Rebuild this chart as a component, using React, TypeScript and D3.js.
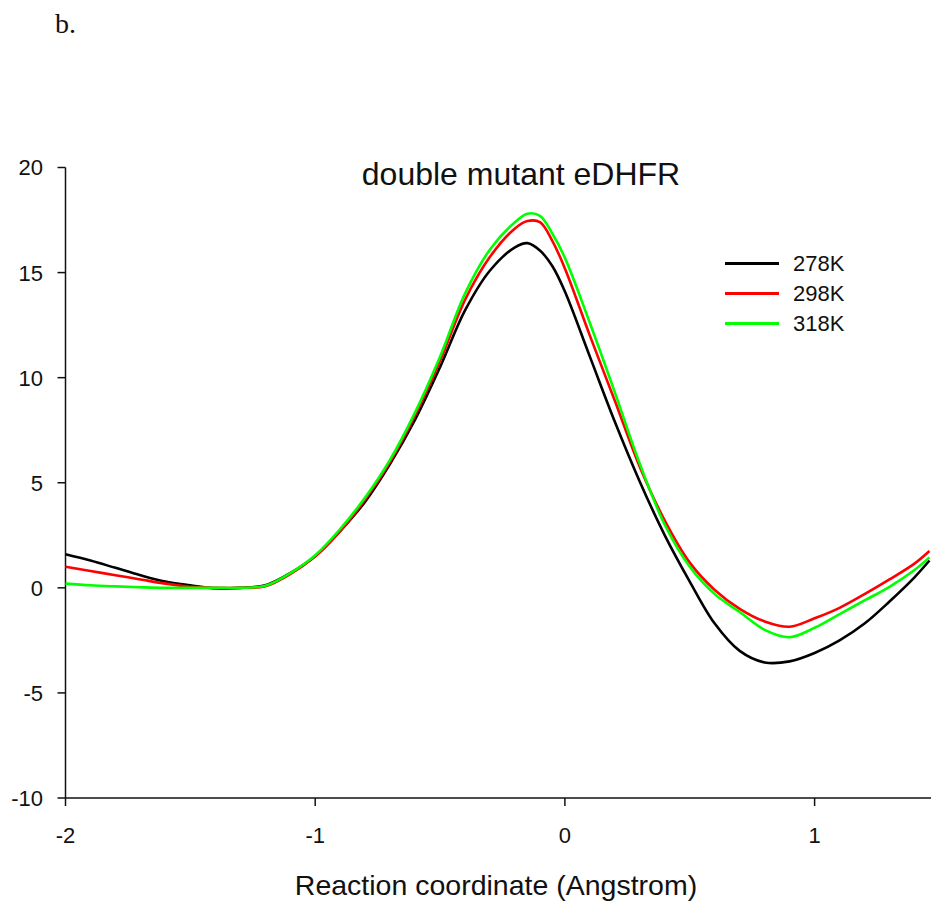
import React from "react";
import * as d3 from "d3";

const xValues = [-2.0,-1.9,-1.8,-1.7,-1.6,-1.5,-1.4,-1.3,-1.2,-1.1,-1.0,-0.9,-0.8,-0.7,-0.6,-0.5,-0.4,-0.3,-0.2,-0.15,-0.1,-0.05,0.0,0.1,0.2,0.3,0.4,0.5,0.6,0.7,0.8,0.9,1.0,1.1,1.2,1.3,1.4,1.46];
const k278 = [1.6,1.3,0.95,0.6,0.3,0.12,-0.03,0.0,0.12,0.7,1.5,2.7,4.1,5.9,8.0,10.5,13.2,15.1,16.2,16.4,16.05,15.3,14.1,11.0,7.9,5.05,2.5,0.3,-1.7,-3.0,-3.55,-3.5,-3.1,-2.5,-1.7,-0.65,0.5,1.3];
const k298 = [1.0,0.8,0.6,0.4,0.2,0.05,0.0,0.0,0.07,0.65,1.5,2.7,4.2,6.0,8.2,10.8,13.7,15.75,17.1,17.45,17.4,16.5,15.2,12.0,8.9,5.75,3.2,1.2,-0.1,-1.0,-1.6,-1.85,-1.45,-0.95,-0.3,0.4,1.15,1.75];
const k318 = [0.2,0.12,0.07,0.03,0.0,0.0,0.0,0.0,0.1,0.7,1.55,2.8,4.3,6.1,8.35,11.0,14.0,16.1,17.4,17.8,17.7,16.85,15.7,12.6,9.3,5.9,3.0,1.0,-0.3,-1.15,-2.0,-2.35,-1.9,-1.25,-0.6,0.05,0.85,1.45];

const seriesNames = ["278K", "298K", "318K"];
const seriesColors = ["#000000", "#ff0000", "#00ff00"];
const seriesValues = [k278, k298, k318];

const xTicks = [-2, -1, 0, 1];
const yTicks = [-10, -5, 0, 5, 10, 15, 20];

const title = "double mutant eDHFR";
const xLabel = "Reaction coordinate (Angstrom)";
const panelLabel = "b.";

export default function App() {
  const W = 931, H = 904;
  const x = d3.scaleLinear().domain([-2, 1.5]).range([65.5, 65.5 + 3.5 * 249.7]);
  const y = d3.scaleLinear().domain([-10, 20]).range([798, 167.5]);
  const line = d3
    .line<[number, number]>()
    .x((d) => x(d[0]))
    .y((d) => y(d[1]))
    .curve(d3.curveCatmullRom.alpha(0.5));
  const font = "'Liberation Sans', Arial, sans-serif";

  return (
    <svg
      width={W}
      height={H}
      style={{ position: "absolute", left: 0, top: 0, background: "#fff" }}
    >
      <rect x={0} y={0} width={W} height={H} fill="#fff" />
      <text x={55} y={33} fontFamily="'Liberation Serif', 'Times New Roman', serif" fontSize={28} fill="#111">
        {panelLabel}
      </text>
      <text x={521} y={185} textAnchor="middle" fontFamily={font} fontSize={32} fill="#111">
        {title}
      </text>

      {/* axes */}
      <line x1={x(-2)} x2={x(-2)} y1={y(20)} y2={y(-10)} stroke="#111" strokeWidth={1.5} />
      <line x1={x(-2)} x2={W} y1={y(-10)} y2={y(-10)} stroke="#111" strokeWidth={1.5} />
      {yTicks.map((t) => (
        <g key={"y" + t}>
          <line x1={x(-2) - 8} x2={x(-2)} y1={y(t)} y2={y(t)} stroke="#111" strokeWidth={1.5} />
          <text x={43} y={y(t)} dy="0.36em" textAnchor="end" fontFamily={font} fontSize={22} fill="#111">
            {t}
          </text>
        </g>
      ))}
      {xTicks.map((t) => (
        <g key={"x" + t}>
          <line x1={x(t)} x2={x(t)} y1={y(-10)} y2={y(-10) + 8} stroke="#111" strokeWidth={1.5} />
          <text x={x(t)} y={843} textAnchor="middle" fontFamily={font} fontSize={22} fill="#111">
            {t}
          </text>
        </g>
      ))}
      <text x={496} y={895} textAnchor="middle" fontFamily={font} fontSize={28.5} fill="#111">
        {xLabel}
      </text>

      {/* curves */}
      {seriesValues.map((vals, i) => (
        <path
          key={seriesNames[i]}
          d={line(xValues.map((xv, j) => [xv, vals[j]] as [number, number])) || ""}
          fill="none"
          stroke={seriesColors[i]}
          strokeWidth={2.6}
          strokeLinejoin="round"
        />
      ))}

      {/* legend */}
      {seriesNames.map((n, i) => (
        <g key={"leg" + n}>
          <line x1={725} x2={779} y1={263.5 + i * 30} y2={263.5 + i * 30} stroke={seriesColors[i]} strokeWidth={3} />
          <text x={793} y={263.5 + i * 30} dy="0.36em" fontFamily={font} fontSize={22} fill="#111">
            {n}
          </text>
        </g>
      ))}
    </svg>
  );
}
